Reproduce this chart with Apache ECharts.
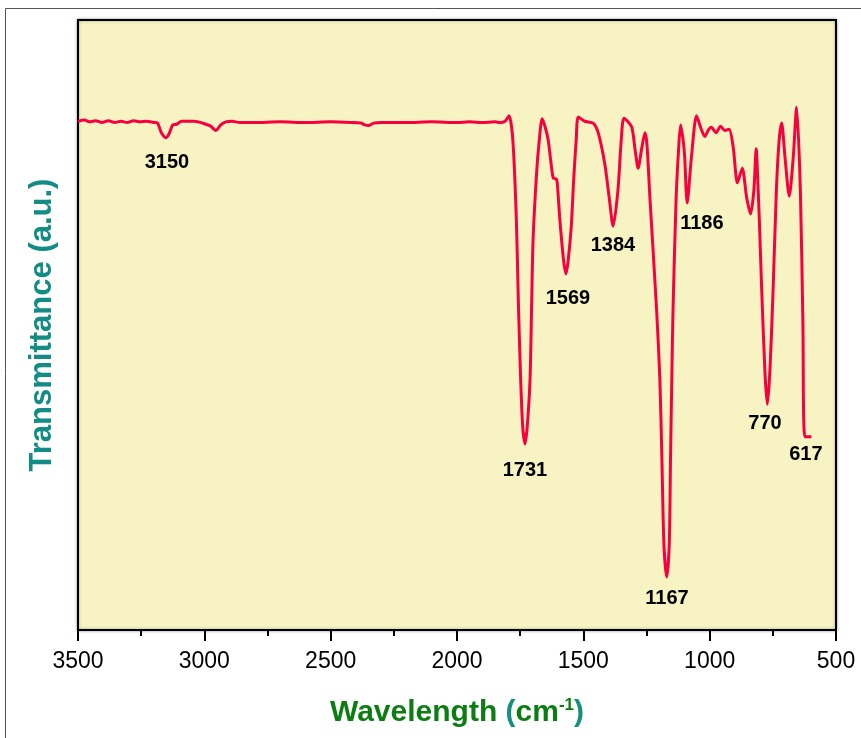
<!DOCTYPE html>
<html>
<head>
<meta charset="utf-8">
<script src="https://cdn.jsdelivr.net/npm/echarts@6/dist/echarts.min.js"></script>
<style>
html,body{margin:0;padding:0;background:#fff;}
#chart{width:861px;height:738px;}
</style>
</head>
<body>
<div id="chart"></div>
<script>
// Wavenumber (cm-1) and transmittance (a.u.)
const wavenumbers = [3500,3475,3455,3430,3405,3380,3355,3330,3305,3280,3255,3230,3200,3185,3170,3152,3140,3125,3110,3090,3040,3000,2975,2955,2935,2915,2890,2860,2800,2700,2600,2500,2420,2380,2365,2350,2330,2300,2200,2100,2000,1950,1900,1850,1830,1810,1794,1779,1765,1757,1748,1740,1731,1722,1711,1705,1699,1685,1675,1663,1650,1639,1628,1619,1606,1601,1594,1586,1577,1569,1561,1548,1538,1528,1520,1494,1461,1441,1415,1398,1382,1363,1350,1339,1309,1295,1283,1270,1256,1248,1236,1210,1197,1189,1181,1170,1160,1155,1150,1145,1133,1122,1115,1105,1099,1089,1072,1052,1035,1019,1005,993,975,957,940,923,907,890,871,854,838,825,816,808,803,794,781,772,762,749,736,725,715,702,685,669,656,641,631,623,597];
const transmittance = [83.4,83.6,83.3,83.5,83.2,83.5,83.2,83.4,83.2,83.5,83.3,83.4,83.2,83.1,81.5,80.7,81.3,82.8,82.9,83.4,83.4,83.0,82.6,81.9,82.8,83.3,83.4,83.2,83.2,83.3,83.2,83.3,83.2,83.1,82.8,82.7,83.1,83.2,83.2,83.3,83.2,83.3,83.2,83.3,83.2,83.4,84.3,80.3,67.2,53.5,41.0,33.4,30.5,33.4,41.0,52.5,63.9,74.9,80.0,83.8,82.3,80.3,76.6,74.1,73.9,72.1,67.8,63.9,60.2,58.4,60.2,66.0,74.0,80.5,84.1,83.4,83.1,81.5,76.4,71.0,66.2,72.1,80.3,83.9,82.5,78.7,75.7,78.7,81.5,79.5,70.5,52.5,41.0,27.9,14.0,8.7,14.0,27.9,41.0,52.5,70.5,79.5,82.8,80.3,77.6,70.0,77.6,84.3,82.3,80.9,82.0,82.4,81.5,82.6,81.9,82.1,79.2,73.3,75.7,71.0,68.2,72.1,78.9,72.0,66.7,55.7,42.1,37.0,42.1,55.7,72.1,80.3,83.1,77.6,71.1,77.6,85.7,72.1,50.3,31.7,31.7];

// Peak annotations: text and where the text sits (data coordinates)
const peakTexts = ['3150','1731','1569','1384','1186','1167','770','617'];
const peakLabelWn = [3148,1731,1561,1383,1031,1169,781,619];
const peakLabelT = [76.7,26.2,54.4,63.0,66.6,5.2,33.8,28.7];

const xTicks = {min:500, max:3500, interval:500};

const lineData = wavenumbers.map((w,i)=>[w, transmittance[i]]);
const labelData = peakTexts.map((t,i)=>({name:t, value:[peakLabelWn[i], peakLabelT[i]]}));

const FONT = "'Liberation Sans', Arial, sans-serif";
const chart = echarts.init(document.getElementById('chart'), null, {renderer:'canvas'});
chart.setOption({
  animation:false,
  backgroundColor:'#fff',
  grid:{left:78, right:25, top:20, bottom:108, show:true, backgroundColor:'#f7f3c2',
        borderColor:'#000', borderWidth:2, shadowBlur:3, shadowColor:'rgba(0,0,0,0.35)'},
  graphic:[{type:'rect', shape:{x:5.5, y:8.5, width:900, height:800}, style:{fill:'none', stroke:'#555', lineWidth:1}, silent:true, z:-1}],
  xAxis:{
    type:'value', min:xTicks.min, max:xTicks.max, interval:xTicks.interval, inverse:true,
    axisLine:{show:true, lineStyle:{color:'#000', width:2}},
    axisTick:{show:true, inside:false, length:11, lineStyle:{color:'#000', width:2}},
    minorTick:{show:true, splitNumber:2, length:6, lineStyle:{color:'#000', width:2}},
    splitLine:{show:false},
    axisLabel:{color:'#000', fontSize:23, fontFamily:FONT, margin:20, formatter:v=>String(v)},
    name:'{g|Wavelength }{t|(}{g|cm}{s|-1}{t|)}',
    nameLocation:'middle', nameGap:67,
    nameTextStyle:{
      rich:{
        g:{fontSize:30, fontWeight:'bold', color:'#0c7d12', fontFamily:FONT},
        t:{fontSize:30, fontWeight:'bold', color:'#13907f', fontFamily:FONT},
        s:{fontSize:17, fontWeight:'bold', color:'#0c7d12', fontFamily:FONT, verticalAlign:'top', padding:[0,0,14,0]}
      }
    }
  },
  yAxis:{
    type:'value', min:0, max:100,
    axisLine:{show:true, lineStyle:{color:'#000', width:2}},
    axisTick:{show:false}, axisLabel:{show:false}, splitLine:{show:false},
    name:'Transmittance (a.u.)', nameLocation:'middle', nameGap:20,
    nameTextStyle:{fontSize:31, fontWeight:'bold', color:'#128c84', fontFamily:FONT}
  },
  series:[
    {type:'line', data:lineData, showSymbol:false, smooth:0.25,
     lineStyle:{color:'#f70040', width:3}, silent:true, z:3},
    {type:'scatter', data:labelData, symbolSize:0, silent:true, z:4,
     itemStyle:{color:'#000', opacity:1},
     label:{show:true, position:'inside', formatter:'{b}', color:'#000', opacity:1,
            textBorderWidth:0, fontSize:20, fontWeight:'bold', fontFamily:FONT}}
  ]
});
</script>
</body>
</html>
